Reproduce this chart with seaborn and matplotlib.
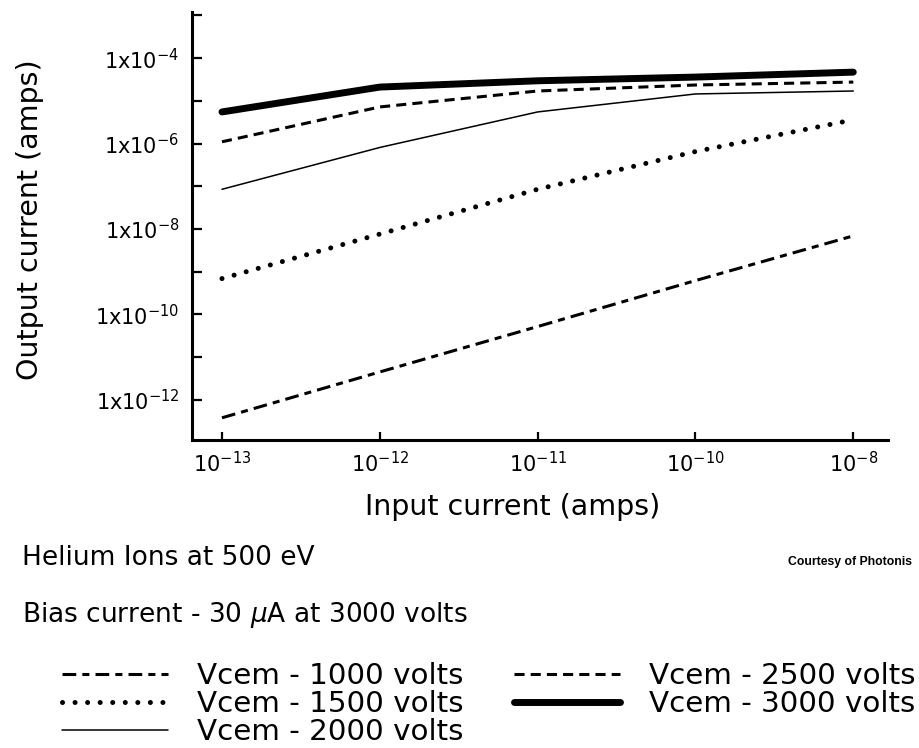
import matplotlib
matplotlib.use("Agg")
import matplotlib.pyplot as plt
import seaborn as sns
import pandas as pd
import numpy as np

# ---- data ----
input_current = [1e-13, 1e-12, 1e-11, 1e-10, 1e-9]
x_tick_labels = [r"10$^{-13}$", r"10$^{-12}$", r"10$^{-11}$", r"10$^{-10}$", r"10$^{-8}$"]
y_tick_values = [1e-12, 1e-10, 1e-8, 1e-6, 1e-4]
y_tick_labels = [r"1x10$^{-12}$", r"1x10$^{-10}$", r"1x10$^{-8}$", r"1x10$^{-6}$", r"1x10$^{-4}$"]
y_minor_ticks = [1e-11, 1e-9, 1e-7, 1e-5, 1e-3]

v1000 = [3.8e-13, 4.5e-12, 5.2e-11, 6.2e-10, 6.9e-9]
v1500 = [6.9e-10, 7.6e-9, 8.5e-8, 6.5e-7, 3.6e-6]
v2000 = [8.5e-8, 8.1e-7, 5.5e-6, 1.45e-5, 1.7e-5]
v2500 = [1.1e-6, 7.2e-6, 1.7e-5, 2.35e-5, 2.75e-5]
v3000 = [5.5e-6, 2.1e-5, 2.95e-5, 3.6e-5, 4.7e-5]

series_labels = ["Vcem - 1000 volts", "Vcem - 1500 volts", "Vcem - 2000 volts",
                 "Vcem - 2500 volts", "Vcem - 3000 volts"]
series_values = [v1000, v1500, v2000, v2500, v3000]

styles = {
    "Vcem - 1000 volts": dict(lw=2.2, ls=(0, (4.5, 2.0, 2.3, 2.0))),
    "Vcem - 1500 volts": dict(lw=3.6, ls=(0, (0.01, 2.5)), dash_capstyle="round"),
    "Vcem - 2000 volts": dict(lw=1.1, ls="-"),
    "Vcem - 2500 volts": dict(lw=2.2, ls=(0, (3.3, 2.0))),
    "Vcem - 3000 volts": dict(lw=5.0, ls="-"),
}

sns.set_style("white")
plt.rcParams["font.family"] = ["DejaVu Sans"]
plt.rcParams["text.color"] = "black"
plt.rcParams["axes.labelcolor"] = "black"
plt.rcParams["xtick.color"] = "black"
plt.rcParams["ytick.color"] = "black"

fig = plt.figure(figsize=(9.2, 7.48), dpi=100)
ax = fig.add_axes([192 / 920, 1 - 440 / 748, (888 - 192) / 920, (440 - 12) / 748])

for lab, vals in zip(series_labels, series_values):
    df = pd.DataFrame({"x": input_current, "y": vals})
    sns.lineplot(data=df, x="x", y="y", ax=ax, color="black", label=lab,
                 legend=False, **styles[lab])

ax.set_xscale("log")
ax.set_yscale("log")
ax.set_xlim(10 ** -13.19, 10 ** -8.78)
ax.set_ylim(10 ** -12.94, 10 ** -2.92)

ax.set_xticks(input_current)
ax.set_xticklabels(x_tick_labels, fontsize=15)
ax.xaxis.set_minor_locator(matplotlib.ticker.NullLocator())
ax.set_yticks(y_tick_values)
ax.set_yticklabels(y_tick_labels, fontsize=15)
ax.yaxis.set_minor_locator(matplotlib.ticker.FixedLocator(y_minor_ticks))
ax.yaxis.set_minor_formatter(matplotlib.ticker.NullFormatter())
ax.tick_params(axis="y", which="both", left=True, direction="in", length=7, width=1.6,
               pad=9, color="black")
ax.tick_params(axis="x", which="major", bottom=True, direction="in", length=6, width=1.6,
               pad=8, color="black")

for s in ["top", "right"]:
    ax.spines[s].set_visible(False)
for s in ["left", "bottom"]:
    ax.spines[s].set_linewidth(2.2)
    ax.spines[s].set_color("black")

ax.set_xlabel("Input current (amps)", fontsize=20.5, va="center")
ax.set_ylabel("Output current (amps)", fontsize=20.5, va="center")
ax.xaxis.set_label_coords((513 - 192) / 696, -(507 - 440) / 428)
ax.yaxis.set_label_coords((30 - 192) / 696, (440 - 220) / 428)

fig.text(22 / 920, 1 - 558 / 748, "Helium Ions at 500 eV", fontsize=19, va="center", ha="left")
fig.text(22 / 920, 1 - 615 / 748, r"Bias current - 30 $\mu$A at 3000 volts", fontsize=19,
         va="center", ha="left")
fig.text(912 / 920, 1 - 562 / 748, "Courtesy of Photonis", fontsize=8.8, fontweight="bold",
         family="Liberation Sans", va="center", ha="right")

handles, labels = ax.get_legend_handles_labels()
fig.legend(handles, labels, loc="upper left", bbox_to_anchor=(62 / 920, 1 - 662 / 748),
           ncol=2, frameon=False, fontsize=21.2, handlelength=3.6, handletextpad=1.0,
           columnspacing=1.7, labelspacing=0.0, borderpad=0, borderaxespad=0)

fig.savefig("out.png", dpi=100, facecolor="white")
